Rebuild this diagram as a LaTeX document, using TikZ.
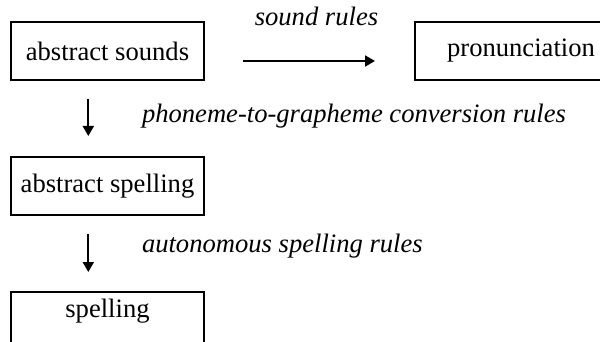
\documentclass[tikz,border=0pt]{standalone}
\usepackage{fontspec}
\setmainfont{Liberation Serif}
\usetikzlibrary{positioning, arrows.meta}

\begin{document}
\begin{tikzpicture}[
    x=0.5pt, y=-0.5pt,
    every node/.style={font=\fontsize{13.3}{16}\selectfont},
    wordbox/.style={draw, line width=1pt, minimum width=96.5pt, minimum height=29pt, inner sep=0pt},
    rulelabel/.style={font=\fontsize{13.3}{16}\selectfont\itshape, inner sep=0pt},
    every path/.style={line width=1pt, black},
    >={Triangle[length=5pt, width=5.5pt]}
]
\useasboundingbox (0,0) rectangle (600,342);

% Nodos
\node[wordbox] (sounds) at (107.5,51) {abstract sounds};
\node[wordbox, minimum width=106pt] (pron) at (521,51) {pronunciation};
\node[wordbox] (absspell) at (107.5,186) {abstract spelling};
\node[wordbox, anchor=north, minimum height=0pt, inner ysep=3.35pt,
      text height=9.5pt, text depth=12.8pt] (spell) at (107.5,291) {spelling};

% Etiquetas de las reglas
\node[rulelabel, anchor=base] (soundrules) at (316.5,26) {sound rules};
\node[rulelabel, anchor=base west] (p2g) at (141,123) {phoneme-to-grapheme conversion rules};
\node[rulelabel, anchor=base west] (autorules) at (141,252) {autonomous spelling rules};

% Flechas
\draw[->, shorten <=18.9pt, shorten >=19.5pt] ([yshift=-5pt]sounds.east) -- ([yshift=-5pt]pron.west);
\draw[->, shorten <=9pt, shorten >=10pt] ([xshift=-9.6pt]sounds.south) -- ([xshift=-9.6pt]absspell.north);
\draw[->, shorten <=9pt, shorten >=9.5pt] ([xshift=-9.6pt]absspell.south) -- ([xshift=-9.6pt]spell.north);

\end{tikzpicture}
\end{document}
